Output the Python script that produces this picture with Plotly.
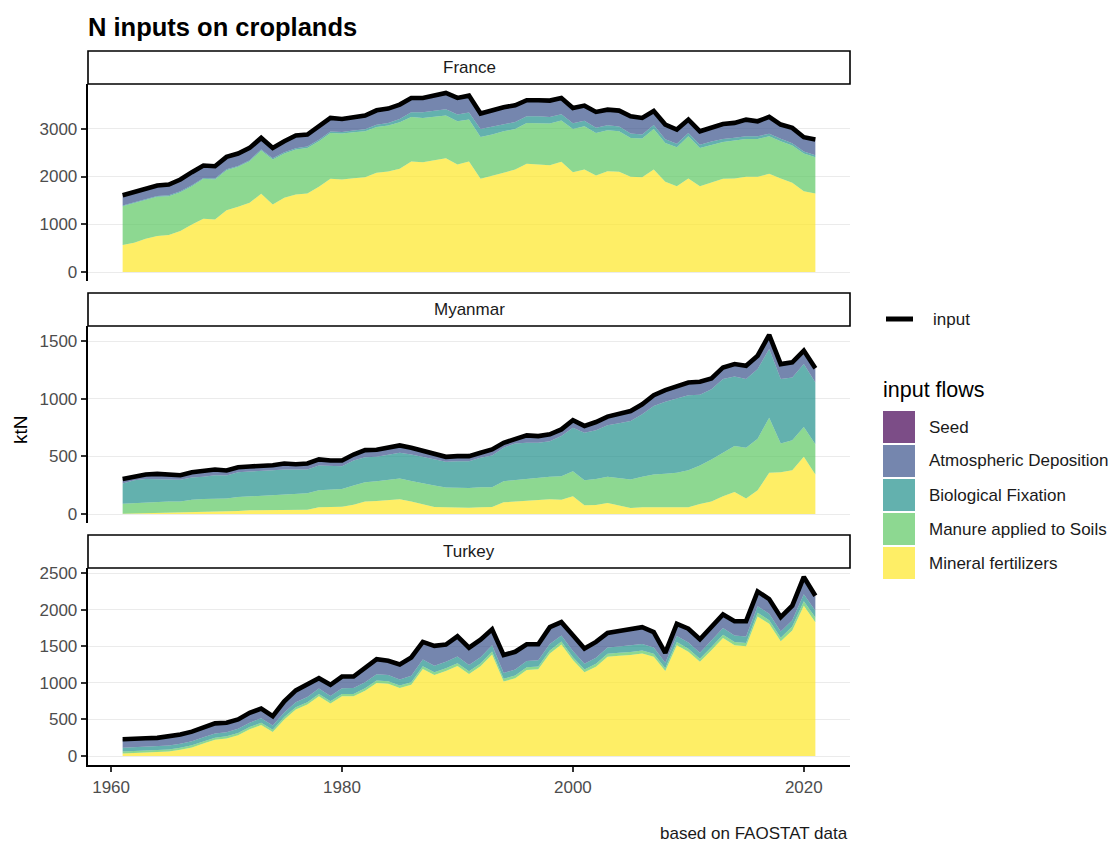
import plotly.graph_objects as go

years = list(range(1961, 2022))

flows = ["Mineral fertilizers", "Manure applied to Soils", "Biological Fixation",
         "Atmospheric Deposition", "Seed"]
flow_colors = {
    "Seed": "rgba(68,1,84,0.7)",
    "Atmospheric Deposition": "rgba(59,82,139,0.7)",
    "Biological Fixation": "rgba(33,144,140,0.7)",
    "Manure applied to Soils": "rgba(93,200,99,0.7)",
    "Mineral fertilizers": "rgba(253,231,37,0.7)",
}

# ---------------- France (ktN) ----------------
fr_mineral = [565, 613, 697, 753, 774, 857, 997, 1115, 1101, 1296,
              1366, 1450, 1638, 1415, 1554, 1624, 1645, 1784, 1952, 1938,
              1966, 1986, 2077, 2105, 2161, 2314, 2300, 2335, 2384, 2251,
              2314, 1952, 2007, 2077, 2147, 2265, 2251, 2237, 2307, 2091,
              2147, 2021, 2112, 2098, 1993, 1986, 2147, 1889, 1798, 1959,
              1798, 1882, 1952, 1959, 1993, 1993, 2056, 1959, 1868, 1694, 1645]
fr_manure = [815, 837, 822, 822, 815, 816, 801, 837, 837, 837,
             837, 871, 906, 941, 927, 941, 955, 955, 961, 961,
             961, 962, 962, 962, 976, 934, 927, 913, 892, 906,
             878, 878, 872, 871, 850, 858, 872, 872, 864, 906,
             906, 892, 857, 850, 816, 809, 850, 815, 816, 885,
             802, 788, 773, 794, 795, 795, 788, 780, 781, 787, 760]
fr_biofix = [15, 15, 16, 16, 17, 17, 18, 18, 19, 20,
             20, 22, 24, 25, 26, 28, 30, 30, 32, 34,
             36, 40, 45, 55, 70, 100, 120, 130, 135, 140,
             150, 165, 160, 150, 145, 140, 140, 135, 135, 120,
             115, 110, 105, 100, 90, 85, 80, 75, 70, 70,
             65, 62, 60, 58, 55, 55, 52, 50, 48, 45, 42]
fr_atmos = [203, 203, 209, 209, 215, 235, 263, 248, 247, 246,
            246, 245, 229, 207, 220, 253, 237, 272, 270, 261,
            273, 276, 291, 288, 287, 285, 286, 304, 327, 336,
            340, 311, 336, 340, 338, 322, 322, 334, 327, 307,
            305, 318, 315, 320, 351, 335, 285, 297, 287, 266,
            271, 274, 304, 300, 337, 302, 340, 287, 309, 285, 315]
fr_seed = [12, 12, 12, 12, 12, 12, 12, 12, 12, 12,
           12, 12, 12, 12, 12, 12, 12, 12, 12, 12,
           12, 12, 12, 12, 12, 12, 12, 12, 12, 12,
           12, 12, 12, 12, 12, 12, 12, 12, 12, 12,
           12, 12, 12, 12, 12, 12, 12, 12, 12, 12,
           12, 12, 12, 12, 12, 12, 12, 12, 12, 12, 12]

# ---------------- Myanmar (ktN) ----------------
mm_mineral = [3, 5, 8, 10, 12, 14, 17, 20, 20, 20,
              26, 32, 34, 35, 36, 37, 38, 58, 64, 64,
              81, 110, 113, 119, 128, 110, 87, 61, 58, 55,
              55, 58, 61, 102, 108, 116, 125, 128, 125, 154,
              76, 78, 96, 76, 52, 58, 61, 58, 58, 58,
              87, 108, 154, 192, 134, 206, 358, 363, 381, 497, 343]
mm_manure = [87, 91, 94, 95, 96, 94, 108, 111, 114, 114,
             122, 122, 126, 131, 135, 137, 142, 148, 151, 154,
             166, 166, 172, 178, 180, 178, 178, 186, 172, 172,
             172, 175, 172, 183, 186, 192, 189, 195, 203, 218,
             218, 227, 227, 232, 247, 265, 282, 291, 300, 323,
             335, 366, 378, 398, 442, 448, 479, 250, 259, 259, 262]
mm_biofix = [175, 198, 203, 200, 191, 189, 192, 192, 203, 200,
             215, 215, 212, 215, 216, 213, 207, 216, 201, 198,
             218, 218, 212, 220, 224, 229, 229, 227, 223, 232,
             232, 255, 276, 291, 319, 311, 305, 308, 349, 378,
             412, 422, 447, 480, 509, 543, 596, 625, 645, 651,
             613, 610, 640, 605, 596, 605, 596, 559, 546, 546, 537]
mm_atmos = [35, 30, 33, 39, 39, 35, 41, 44, 45, 39,
            39, 39, 39, 38, 47, 41, 47, 47, 44, 44,
            47, 56, 56, 54, 59, 54, 48, 44, 39, 39,
            39, 39, 47, 38, 36, 59, 53, 56, 53, 59,
            54, 67, 71, 79, 82, 82, 88, 97, 105, 105,
            108, 88, 96, 102, 111, 111, 117, 125, 126, 112, 118]
mm_seed = [5, 5, 5, 5, 5, 5, 5, 5, 5, 5,
           5, 5, 5, 5, 5, 5, 5, 5, 5, 5,
           5, 5, 5, 5, 5, 5, 5, 5, 5, 5,
           5, 5, 5, 5, 5, 5, 5, 5, 5, 5,
           5, 5, 5, 5, 5, 5, 5, 5, 5, 5,
           5, 5, 5, 5, 5, 5, 5, 5, 5, 5, 5]

# ---------------- Turkey (ktN) ----------------
tr_mineral = [36, 41, 50, 54, 63, 86, 117, 171, 221, 239,
              284, 365, 423, 329, 500, 635, 703, 815, 716, 815,
              815, 892, 996, 987, 928, 973, 1189, 1108, 1162, 1230,
              1120, 1225, 1388, 1018, 1063, 1176, 1185, 1401, 1523, 1311,
              1144, 1221, 1356, 1370, 1379, 1401, 1356, 1162, 1514, 1424,
              1288, 1446, 1613, 1514, 1500, 1906, 1806, 1568, 1716, 2054, 1829]
tr_manure = [27, 27, 27, 28, 28, 28, 29, 29, 30, 30,
             30, 31, 31, 30, 32, 33, 33, 34, 33, 34,
             34, 35, 36, 36, 35, 36, 38, 37, 37, 38,
             37, 38, 39, 36, 37, 38, 38, 40, 40, 39,
             38, 40, 41, 41, 42, 42, 41, 38, 42, 42,
             41, 43, 45, 44, 45, 50, 50, 48, 52, 60, 62]
tr_biofix = [52, 53, 53, 54, 54, 55, 55, 56, 56, 57,
             58, 60, 62, 58, 64, 68, 70, 72, 70, 78,
             80, 82, 84, 83, 82, 86, 90, 88, 89, 92,
             85, 88, 86, 80, 82, 84, 85, 88, 82, 85,
             80, 83, 85, 86, 88, 87, 85, 75, 84, 85,
             82, 86, 90, 88, 87, 90, 86, 84, 88, 95, 92]
tr_atmos = [105, 99, 103, 102, 111, 114, 122, 121, 129, 119,
            118, 124, 123, 118, 142, 150, 157, 132, 144, 149,
            147, 179, 198, 186, 197, 242, 232, 262, 225, 265,
            228, 229, 207, 235, 232, 219, 209, 222, 174, 204,
            197, 205, 188, 200, 211, 221, 202, 125, 156, 178,
            174, 190, 175, 186, 200, 192, 192, 187, 188, 227, 196]
tr_seed = [10, 10, 10, 10, 10, 10, 10, 10, 10, 10,
           10, 10, 10, 10, 10, 10, 10, 10, 10, 10,
           10, 10, 10, 10, 10, 10, 10, 10, 10, 10,
           10, 10, 10, 10, 10, 10, 10, 10, 10, 10,
           10, 10, 10, 10, 10, 10, 10, 10, 10, 10,
           10, 10, 10, 10, 10, 10, 10, 10, 10, 10, 10]

countries = ["France", "Myanmar", "Turkey"]
country_data = {
    "France": [fr_mineral, fr_manure, fr_biofix, fr_atmos, fr_seed],
    "Myanmar": [mm_mineral, mm_manure, mm_biofix, mm_atmos, mm_seed],
    "Turkey": [tr_mineral, tr_manure, tr_biofix, tr_atmos, tr_seed],
}
y_dticks = {"France": 1000, "Myanmar": 500, "Turkey": 500}

# ---------------- layout geometry ----------------
# Positions below are given in window pixels; the page body has an 8px margin,
# so the figure itself is drawn 8px smaller and everything is shifted by OFF.
OFF = 8
W, H = 1118 - OFF, 844 - OFF
ML, MR, MT, MB = 88 - OFF, 268, 51 - OFF, 79
PW, PH = W - ML - MR, H - MT - MB


def px(x):
    return (x - OFF - ML) / PW


def py(y):
    return (H - MB - (y - OFF)) / PH


# (plot top, plot bottom, strip top) in window pixels
panel_px = {"France": (84, 281, 51), "Myanmar": (326, 523, 293), "Turkey": (568, 765, 535)}

FONT = "Liberation Sans, Arial, Helvetica, sans-serif"
fig = go.Figure()
shapes, annotations = [], []
layout_axes = {}

for i, c in enumerate(countries):
    sfx = "" if i == 0 else str(i + 1)
    xa, ya = "x" + sfx, "y" + sfx
    series = country_data[c]
    for name, vals in zip(flows, series):
        fig.add_trace(go.Scatter(
            x=years, y=vals, name=name, mode="lines", line=dict(width=0),
            fillcolor=flow_colors[name], stackgroup="g" + c,
            xaxis=xa, yaxis=ya, showlegend=False))
    totals = [sum(v) for v in zip(*series)]
    fig.add_trace(go.Scatter(
        x=years, y=totals, name="input", mode="lines",
        line=dict(color="black", width=4.6), xaxis=xa, yaxis=ya, showlegend=False))

    top, bot, stop = panel_px[c]
    ymax = max(totals)
    bottom_panel = (i == len(countries) - 1)
    layout_axes["xaxis" + sfx] = dict(
        domain=[0, 1], range=[1958, 2024], anchor=ya, showgrid=False, zeroline=False,
        tickvals=[1960, 1980, 2000, 2020],
        showticklabels=bottom_panel, showline=bottom_panel, linecolor="black", linewidth=1.6,
        ticks="outside" if bottom_panel else "", ticklen=5.5, tickwidth=1.6, tickcolor="#333333",
        tickfont=dict(size=17, color="#4D4D4D", family=FONT))
    layout_axes["yaxis" + sfx] = dict(
        domain=[py(bot), py(top)], range=[-0.05 * ymax, 1.05 * ymax], anchor=xa,
        dtick=y_dticks[c], tick0=0, showgrid=True, gridcolor="#EBEBEB", gridwidth=1.3,
        zeroline=False, showline=True, linecolor="black", linewidth=1.6,
        ticks="outside", ticklen=5.5, tickwidth=1.6, tickcolor="#333333",
        tickfont=dict(size=17, color="#4D4D4D", family=FONT))

    # facet strip
    shapes.append(dict(type="rect", xref="paper", yref="paper", x0=0, x1=1,
                       y0=py(top), y1=py(stop), line=dict(color="black", width=1.6),
                       fillcolor="white", layer="above"))
    annotations.append(dict(text=c, xref="paper", yref="paper", x=0.5, y=py((top + stop) / 2),
                            showarrow=False, font=dict(size=17, color="#1A1A1A", family=FONT),
                            xanchor="center", yanchor="middle"))

# ---------------- legend (drawn) ----------------
shapes.append(dict(type="line", xref="paper", yref="paper", x0=px(886), x1=px(913),
                   y0=py(319), y1=py(319), line=dict(color="black", width=5)))
annotations.append(dict(text="input", xref="paper", yref="paper", x=px(931), y=py(319),
                        xanchor="left", yanchor="middle", showarrow=False,
                        font=dict(size=17, color="#1A1A1A", family=FONT)))
annotations.append(dict(text="input flows", xref="paper", yref="paper", x=px(881), y=py(390),
                        xanchor="left", yanchor="middle", showarrow=False,
                        font=dict(size=21.5, color="black", family=FONT)))
legend_order = ["Seed", "Atmospheric Deposition", "Biological Fixation",
                "Manure applied to Soils", "Mineral fertilizers"]
for k, name in enumerate(legend_order):
    t = 411 + k * 34
    shapes.append(dict(type="rect", xref="paper", yref="paper", x0=px(883), x1=px(915),
                       y0=py(t + 32), y1=py(t), line=dict(width=0),
                       fillcolor=flow_colors[name]))
    annotations.append(dict(text=name, xref="paper", yref="paper", x=px(927), y=py(t + 16),
                            xanchor="left", yanchor="middle", showarrow=False,
                            font=dict(size=17, color="#1A1A1A", family=FONT)))

# ---------------- titles ----------------
annotations.append(dict(text="<b>N inputs on croplands</b>", xref="paper", yref="paper",
                        x=px(86), y=py(27), xanchor="left", yanchor="middle", showarrow=False,
                        font=dict(size=25.5, color="black", family=FONT)))
annotations.append(dict(text="ktN", xref="paper", yref="paper", x=px(20), y=py(430),
                        xanchor="center", yanchor="middle", textangle=-90, showarrow=False,
                        font=dict(size=19, color="black", family=FONT)))
annotations.append(dict(text="based on FAOSTAT data", xref="paper", yref="paper",
                        x=px(850), y=py(833), xanchor="right", yanchor="middle", showarrow=False,
                        font=dict(size=17, color="#1A1A1A", family=FONT)))

fig.update_layout(
    width=W, height=H, margin=dict(l=ML, r=MR, t=MT, b=MB, autoexpand=False),
    paper_bgcolor="white", plot_bgcolor="white", showlegend=False,
    font=dict(family=FONT), shapes=shapes, annotations=annotations, **layout_axes)

fig.write_html("out.html")
